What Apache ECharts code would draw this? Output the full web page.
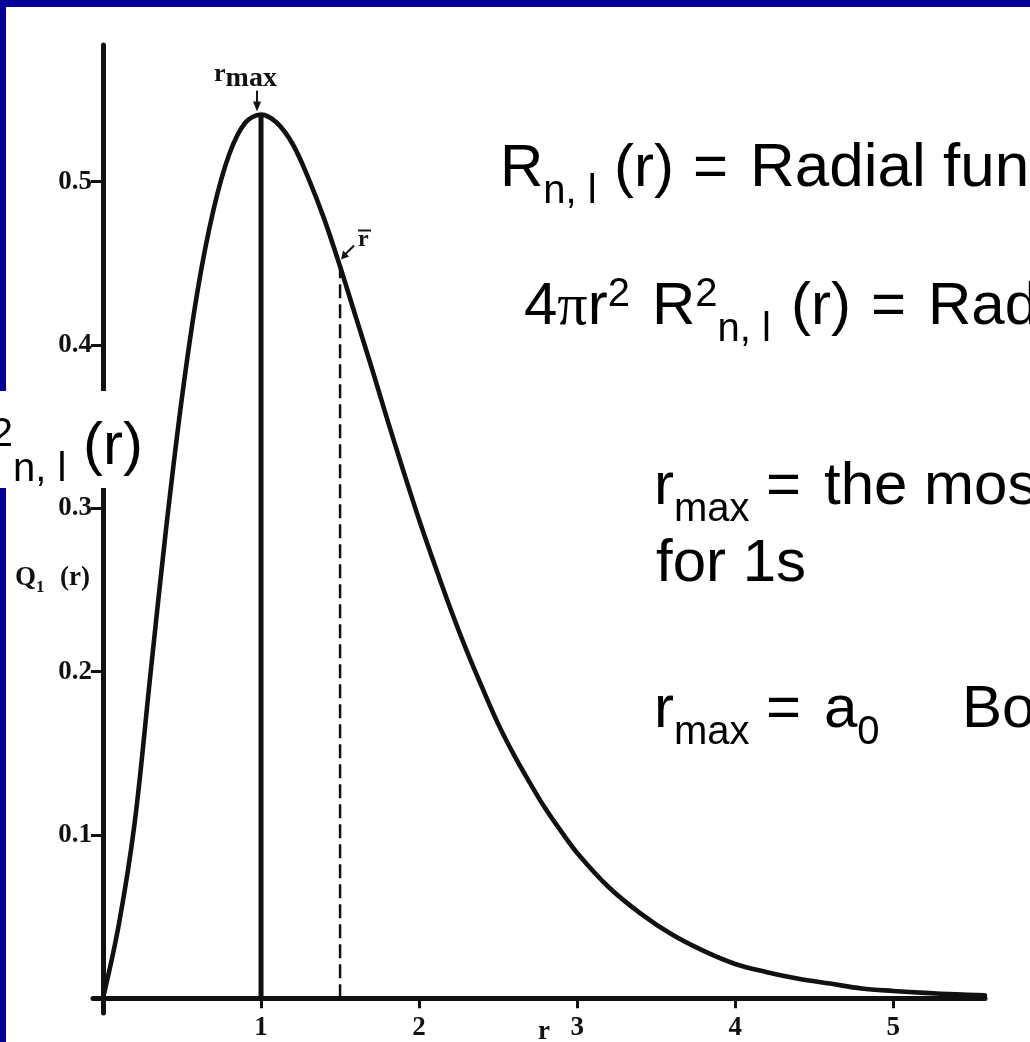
<!DOCTYPE html>
<html>
<head>
<meta charset="utf-8">
<script src="https://cdn.jsdelivr.net/npm/echarts@6/dist/echarts.min.js"></script>
<style>
  html, body { margin: 0; padding: 0; background: #fff; }
  #main { width: 1030px; height: 1042px; }
</style>
</head>
<body>
<div id="main"></div>
<script>
// Radial probability density of the hydrogen 1s orbital, r in units of a0
const radius = [0, 0.1, 0.2, 0.3, 0.4, 0.5, 0.6, 0.7, 0.8, 0.9, 1.0, 1.1, 1.2, 1.3, 1.4, 1.5,
  1.6, 1.7, 1.8, 1.9, 2.0, 2.1, 2.2, 2.3, 2.4, 2.5, 2.6, 2.7, 2.8, 2.9, 3.0,
  3.2, 3.4, 3.6, 3.8, 4.0, 4.2, 4.4, 4.6, 4.8, 5.0, 5.2, 5.4, 5.58];
const density = [0, 0.045, 0.107, 0.198, 0.288, 0.368, 0.434, 0.483, 0.517, 0.536, 0.541, 0.536,
  0.523, 0.502, 0.477, 0.448, 0.417, 0.386, 0.354, 0.323, 0.293, 0.265, 0.238, 0.213, 0.190,
  0.168, 0.149, 0.132, 0.116, 0.102, 0.089, 0.068, 0.052, 0.039, 0.029, 0.021, 0.016, 0.012,
  0.009, 0.006, 0.0045, 0.0033, 0.0024, 0.0018];
const xTicks = [1, 2, 3, 4, 5];
const yTicks = [0.1, 0.2, 0.3, 0.4, 0.5];
const rMax = 1.0;   // most probable radius
const rMean = 1.5;  // average radius

const INK = '#111';
const SANS = '"Liberation Sans", Arial, sans-serif';
const SERIF = '"Liberation Serif", "Times New Roman", serif';
const BLUE = '#000099';

const peakVal = density[radius.indexOf(rMax)];
const meanVal = density[radius.indexOf(rMean)];

const chart = echarts.init(document.getElementById('main'), null, { renderer: 'canvas' });

const axisFont = { fontFamily: SERIF, fontWeight: 'bold', fontSize: 27, color: INK };

chart.setOption({
  animation: false,
  backgroundColor: '#fff',
  grid: { left: 93, right: 45, top: 45, bottom: 29, containLabel: false, outerBoundsMode: 'none' },
  xAxis: {
    type: 'value', min: -0.063, max: 5.58,
    splitLine: { show: false },
    axisLine: { onZero: true, lineStyle: { color: INK, width: 5 } },
    axisTick: { customValues: [0].concat(xTicks), length: 10, lineStyle: { color: INK, width: 3 } },
    axisLabel: Object.assign({ customValues: xTicks, margin: 2 }, axisFont)
  },
  yAxis: {
    type: 'value', min: -0.009, max: 0.5836,
    splitLine: { show: false },
    axisLine: { onZero: true, lineStyle: { color: INK, width: 5 } },
    axisTick: { customValues: yTicks, length: 12, lineStyle: { color: INK, width: 3 } },
    axisLabel: Object.assign({ customValues: yTicks, margin: 1, formatter: v => v.toFixed(1) }, axisFont)
  },
  series: [
    {
      type: 'line', smooth: 0.35, showSymbol: false, silent: true,
      data: radius.map((r, i) => [r, density[i]]),
      lineStyle: { color: INK, width: 4.6, cap: 'round', join: 'round' }, z: 3
    },
    {
      type: 'line', showSymbol: false, silent: true,
      data: [[rMax, 0], [rMax, peakVal]],
      lineStyle: { color: INK, width: 5 }, z: 2
    },
    {
      type: 'line', showSymbol: false, silent: true,
      data: [[rMean, 0], [rMean, meanVal]],
      lineStyle: { color: INK, width: 2.5, type: [14, 6] }, z: 2
    }
  ]
});

// text measuring for formula layout
const measureCtx = document.createElement('canvas').getContext('2d');
function fontOf(p) { return (p.bold ? 'bold ' : '') + p.size + 'px ' + (p.family || SANS); }
function midOffset(p) { return (p.family === SERIF ? 0.3375 : 0.3465) * p.size; }
function widthOf(p) { measureCtx.font = fontOf(p); return measureCtx.measureText(p.t).width; }

// lay out a run of text pieces on a common baseline (sub/superscripts via dy);
// a piece may pin its own left edge with `at`
function textRun(x0, base, parts, opts) {
  opts = opts || {};
  let x = x0;
  if (opts.anchor === 'right') x = x0 - parts.reduce((a, p) => a + widthOf(p) + (p.gap || 0), 0);
  const out = [];
  parts.forEach((p) => {
    x += p.gap || 0;
    if (p.at !== undefined) x = p.at;
    out.push({
      type: 'text', z: opts.z || 100, silent: true,
      style: {
        text: p.t, x: x, y: base + (p.dy || 0) - midOffset(p),
        font: fontOf(p), fill: opts.color || '#000',
        align: 'left', verticalAlign: 'middle', textAlign: 'left', textVerticalAlign: 'middle'
      }
    });
    x += widthOf(p);
  });
  return out;
}

const M = 60, S = 40, SUB = 16, SUP = -19;
const big = (t, at, size) => ({ t, size: size || M, at });
const sub = t => ({ t, size: S, dy: SUB });
const sup = t => ({ t, size: S, dy: SUP });
const pi = { t: 'π', size: M, family: SERIF };

const px = (x, y) => chart.convertToPixel({ gridIndex: 0 }, [x, y]);
const pPeak = px(rMax, peakVal);
const pMean = px(rMean, meanVal);
const serifB = (t, size, dy, at) => ({ t, size, family: SERIF, bold: true, dy, at });

const g = [];

// slide frame
g.push({ type: 'rect', z: 50, silent: true, shape: { x: 0, y: 0, width: 1030, height: 7 }, style: { fill: BLUE } });
g.push({ type: 'rect', z: 50, silent: true, shape: { x: 0, y: 0, width: 6, height: 1042 }, style: { fill: BLUE } });

// axis titles
g.push(...textRun(15, 587, [serifB('Q', 27), serifB('1', 17, 6), serifB('(r)', 27, 0, 60)], { color: INK, z: 40 }));
g.push(...textRun(538, 1041, [serifB('r', 27)], { color: INK, z: 40 }));

// r_max marker
g.push(...textRun(pPeak[0] - 47, pPeak[1] - 32, [serifB('r', 26), serifB('max', 28, 6)], { color: INK, z: 40 }));
g.push({ type: 'line', z: 40, silent: true, shape: { x1: pPeak[0] - 4, y1: pPeak[1] - 24, x2: pPeak[0] - 4, y2: pPeak[1] - 6 }, style: { stroke: INK, lineWidth: 2 } });
g.push({ type: 'polygon', z: 40, silent: true, shape: { points: [[pPeak[0] - 8, pPeak[1] - 13], [pPeak[0], pPeak[1] - 13], [pPeak[0] - 4, pPeak[1] - 3]] }, style: { fill: INK } });

// mean radius marker
g.push(...textRun(pMean[0] + 18, pMean[1] - 19, [serifB('r', 24)], { color: INK, z: 40 }));
g.push({ type: 'line', z: 40, silent: true, shape: { x1: pMean[0] + 18, y1: pMean[1] - 36, x2: pMean[0] + 31, y2: pMean[1] - 36 }, style: { stroke: INK, lineWidth: 2 } });
g.push({ type: 'line', z: 40, silent: true, shape: { x1: pMean[0] + 14, y1: pMean[1] - 21, x2: pMean[0] + 4, y2: pMean[1] - 11 }, style: { stroke: INK, lineWidth: 2 } });
g.push({ type: 'polygon', z: 40, silent: true, shape: { points: [[pMean[0] + 1, pMean[1] - 7], [pMean[0] + 3, pMean[1] - 16], [pMean[0] + 9, pMean[1] - 10]] }, style: { fill: INK } });

// formula text box on the left edge
g.push({ type: 'rect', z: 90, silent: true, shape: { x: 0, y: 391, width: 150, height: 97 }, style: { fill: '#fff' } });
g.push(...textRun(143, 468, [big('4'), pi, big('r'), sup('2'), big(' R'), sup('2'), sub('n, l'), big(' (r)')], { anchor: 'right' }));

// definitions
g.push(...textRun(500, 190, [big('R'), sub('n, l'), big('(r)', 614), big('=', 693), big('Radial function', 750, 62)]));
g.push(...textRun(524, 328, [big('4'), pi, big('r'), sup('2'), big('R', 652), sup('2'), sub('n, l'),
  big('(r)', 791), big('=', 871), big('Radial distribution function', 928)]));
g.push(...textRun(654, 508, [big('r'), sub('max'), big('=', 766), big('the most probable radius', 824)]));
g.push(...textRun(656, 585, [big('for 1s')]));
g.push(...textRun(654, 731, [big('r'), sub('max'), big('=', 766), big('a', 824), sub('0'), big('Bohr radius', 962)]));

chart.setOption({ graphic: g });
</script>
</body>
</html>
